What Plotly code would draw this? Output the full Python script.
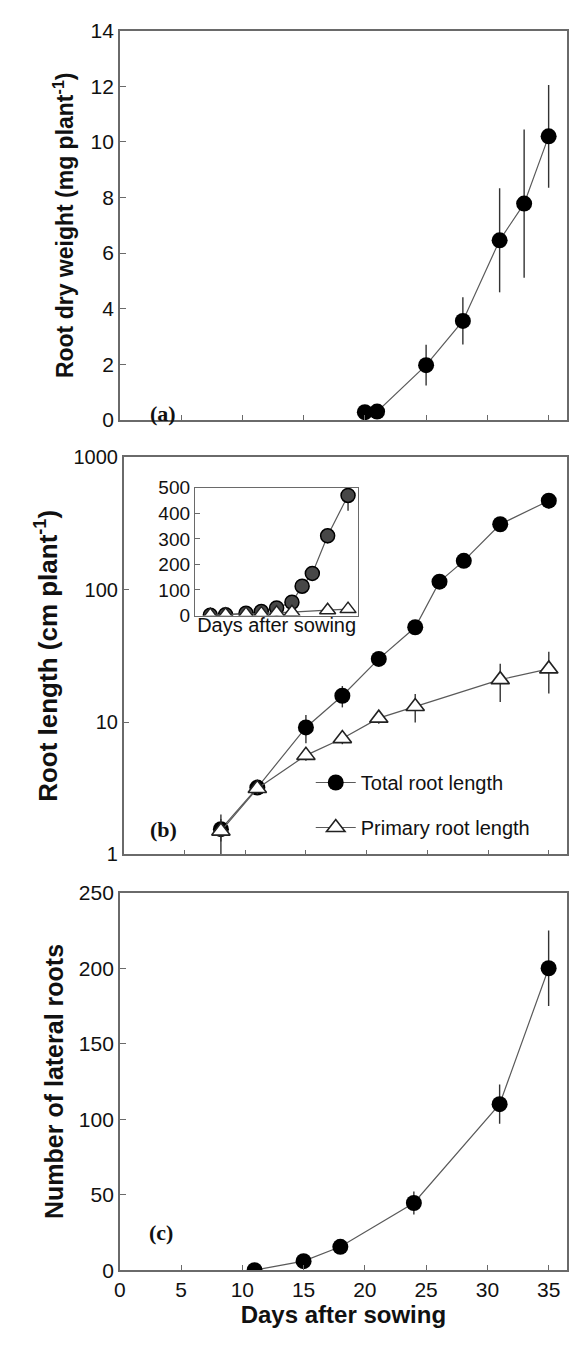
import plotly.graph_objects as go

# ---------------- data ----------------
days_a = [20, 21, 25, 28, 31, 33, 35]
dry_weight = [0.28, 0.30, 1.97, 3.56, 6.46, 7.78, 10.2]
dry_weight_err = [0.05, 0.05, 0.73, 0.85, 1.87, 2.67, 1.85]

days_total = [8, 11, 15, 18, 21, 24, 26, 28, 31, 35]
total_length = [1.55, 3.2, 9.1, 15.8, 30, 52, 115, 165, 312, 470]
total_length_err = [0.3, 0.3, 2.2, 2.9, 3, 5, 10, 15, 30, 60]

days_primary = [8, 11, 15, 18, 21, 24, 31, 35]
primary_length = [1.5, 3.15, 5.6, 7.5, 10.7, 13.1, 20.9, 25.2]
primary_length_err = [0.5, 0.3, 0.5, 0.7, 1.0, 3.2, 6.7, 8.8]

days_c = [11, 15, 18, 24, 31, 35]
lateral_roots = [0, 6, 15.5, 44.5, 110, 200]
lateral_roots_err = [0, 1, 1.5, 7.6, 13, 25]

x_ticks = [0, 5, 10, 15, 20, 25, 30, 35]
log_ticks = [1, 10, 100, 1000]

# ---------------- styles ----------------
FONT = "Liberation Sans"
LINE = dict(color="#5a5a5a", width=1.2)
ERR = dict(type="data", thickness=1.4, width=0, color="#333333")
AX = "#6a6a6a"

fig = go.Figure()

# panel (a)
fig.add_trace(go.Scatter(
    x=days_a, y=dry_weight, mode="lines+markers", showlegend=False,
    line=LINE, marker=dict(symbol="circle", size=16, color="black"),
    error_y=dict(array=dry_weight_err, **ERR),
    xaxis="x", yaxis="y"))

# panel (b)
fig.add_trace(go.Scatter(
    x=days_total, y=total_length, mode="lines+markers", name="Total root length",
    legendgroup="t",
    line=LINE, marker=dict(symbol="circle", size=16, color="black"),
    error_y=dict(array=total_length_err, **ERR),
    xaxis="x2", yaxis="y2"))
fig.add_trace(go.Scatter(
    x=days_primary, y=primary_length, mode="lines+markers", name="Primary root length",
    legendgroup="p",
    line=LINE, marker=dict(symbol="triangle-up", size=16, color="white",
                           line=dict(color="#222222", width=1.6)),
    error_y=dict(array=primary_length_err, **ERR),
    xaxis="x2", yaxis="y2"))

# inset
fig.add_trace(go.Scatter(
    x=days_total, y=total_length, mode="lines+markers", showlegend=False,
    line=LINE, marker=dict(symbol="circle", size=14, color="#474747",
                           line=dict(color="black", width=1.5)),
    error_y=dict(array=total_length_err, **ERR),
    xaxis="x4", yaxis="y4"))
fig.add_trace(go.Scatter(
    x=days_primary, y=primary_length, mode="lines+markers", showlegend=False,
    line=LINE, marker=dict(symbol="triangle-up", size=14, color="white",
                           line=dict(color="#222222", width=1.5)),
    xaxis="x4", yaxis="y4"))

# panel (c)
fig.add_trace(go.Scatter(
    x=days_c, y=lateral_roots, mode="lines+markers", showlegend=False,
    line=LINE, marker=dict(symbol="circle", size=16, color="black"),
    error_y=dict(array=lateral_roots_err, **ERR),
    xaxis="x3", yaxis="y3"))

W, H = 569, 1351
def px(x): return x / W
def py(y): return 1 - y / H

common_x = dict(range=[0, 36.5], tickvals=x_ticks, ticks="inside", ticklen=5,
                tickcolor=AX, showline=True, linecolor=AX, linewidth=1.5,
                mirror=True, showgrid=False, zeroline=False)
common_y = dict(ticks="inside", ticklen=6, tickcolor=AX, showline=True,
                linecolor=AX, linewidth=1.5, mirror=True, showgrid=False,
                zeroline=False)

fig.update_layout(
    width=W, height=H, margin=dict(l=0, r=0, t=0, b=0),
    paper_bgcolor="white", plot_bgcolor="white",
    font=dict(family=FONT, color="#111"),
    xaxis=dict(domain=[px(115), px(567)], anchor="y", showticklabels=False, **common_x),
    yaxis=dict(domain=[py(415), py(19)], anchor="x", range=[0, 14], dtick=2,
               tickfont=dict(size=21, color="#111"),
               title=dict(text="<b>Root dry weight (mg plant<sup>-1</sup>)</b>",
                          font=dict(size=23), standoff=10),
               **common_y),
    xaxis2=dict(domain=[px(119), px(567)], anchor="y2", showticklabels=False, **common_x),
    yaxis2=dict(domain=[py(857), py(453)], anchor="x2", type="log", range=[0, 3],
                tickvals=log_ticks, ticktext=[str(t) for t in log_ticks],
                tickfont=dict(size=20, color="#111"),
                title=dict(text="<b>Root length (cm plant<sup>-1</sup>)</b>",
                           font=dict(size=26), standoff=8),
                **common_y),
    xaxis3=dict(domain=[px(115), px(567)], anchor="y3", showticklabels=True,
                tickfont=dict(size=21, color="#111"),
                title=dict(text="<b>Days after sowing</b>", font=dict(size=24), standoff=4),
                **common_x),
    yaxis3=dict(domain=[py(1280), py(896)], anchor="x3", range=[0, 250], dtick=50,
                tickfont=dict(size=21, color="#111"),
                title=dict(text="<b>Number of lateral roots</b>",
                           font=dict(size=25), standoff=8),
                **common_y),
    xaxis4=dict(domain=[px(191), px(356)], anchor="y4", range=[5, 37],
                showticklabels=False, ticks="", showline=True, linecolor=AX,
                linewidth=1.3, mirror=True, showgrid=False, zeroline=False,
                title=dict(text="Days after sowing", font=dict(size=20), standoff=2)),
    yaxis4=dict(domain=[py(614), py(484)], anchor="x4", range=[0, 500], dtick=100,
                ticks="inside", ticklen=5, tickcolor=AX, showline=True, linecolor=AX,
                linewidth=1.3, mirror=True, showgrid=False, zeroline=False,
                tickfont=dict(size=19, color="#111")),
    legend=dict(x=px(308), y=py(764), xanchor="left", yanchor="top",
                bgcolor="rgba(0,0,0,0)", font=dict(size=20, color="#111"),
                tracegroupgap=16, itemwidth=40),
)

for label, xx, yy in [("(a)", 144, 394), ("(b)", 144, 832), ("(c)", 143, 1256)]:
    fig.add_annotation(x=px(xx), y=py(yy), xref="paper", yref="paper", text=f"<b>{label}</b>",
                       showarrow=False, font=dict(family="Liberation Serif", size=22, color="#111"))

fig.write_html("out.html", config={"displayModeBar": False},
               post_script="document.body.style.margin='0';document.body.style.overflow='hidden';")
